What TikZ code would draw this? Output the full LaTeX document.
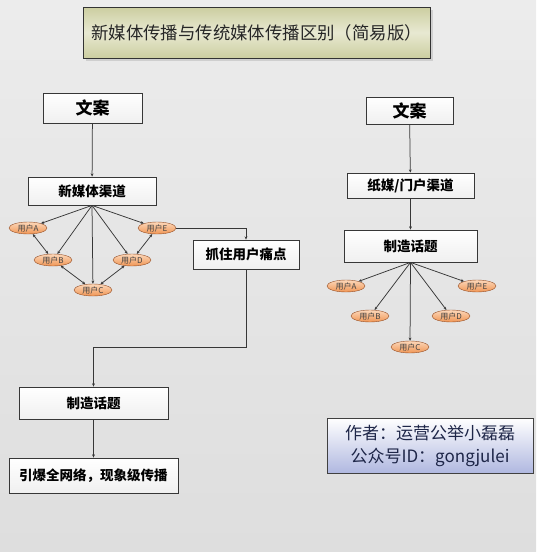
\documentclass[tikz,border=0pt]{standalone}
\usepackage{fontspec}
\setmainfont{Noto Sans CJK SC}
\usetikzlibrary{shapes.geometric,arrows.meta,shadows}
\definecolor{bgtop}{RGB}{236,236,236}
\definecolor{bgbot}{RGB}{222,222,222}
\definecolor{titlefill}{RGB}{204,206,160}
\definecolor{titlemid}{RGB}{232,233,210}
\definecolor{userfill}{RGB}{240,150,85}
\definecolor{userlight}{RGB}{252,215,185}
\definecolor{userborder}{RGB}{150,80,40}
\definecolor{authorfill}{RGB}{176,184,224}
\definecolor{authortext}{RGB}{30,38,72}
\definecolor{lineclr}{RGB}{55,55,55}
\tikzset{
  stepbox/.style  = {draw=lineclr, line width=0.8pt, top color=white,
                     bottom color=gray!12, inner sep=0pt, font=\bfseries,
                     text=black},
  userbub/.style  = {ellipse, draw=userborder, inner sep=0pt,
                     minimum width=38pt, minimum height=12pt,
                     top color=userlight, bottom color=userfill,
                     font=\fontsize{8}{9}\selectfont, text=black!75},
  flow/.style     = {draw=lineclr, line width=0.75pt,
                     -{Stealth[length=3.2pt,width=2.8pt]}},
  twoway/.style   = {draw=lineclr, line width=0.75pt,
                     {Stealth[length=3.2pt,width=2.8pt]}-{Stealth[length=3.2pt,width=2.8pt]}},
}

\begin{document}
\begin{tikzpicture}[x=1pt, y=-1pt]

  % ── canvas ──
  \shade[top color=bgtop, bottom color=bgbot] (0,0) rectangle (536,552);
  \useasboundingbox (0,0) rectangle (536,552);

  % ──────────────────────────────────────────────
  %  TITLE
  % ──────────────────────────────────────────────
  \node[draw=black!80, line width=0.8pt, drop shadow={opacity=0.25},
        top color=titlefill, bottom color=titlefill, middle color=titlemid,
        minimum width=347pt, minimum height=51pt, inner sep=0pt,
        font=\fontsize{17.4}{20}\selectfont, text=black!85]
    (title) at (256.5, 32.5) {新媒体传播与传统媒体传播区别（简易版）};

  % ══════════════════════════════════════════════
  %  LEFT: new media
  % ══════════════════════════════════════════════
  \node[stepbox, minimum width=99pt, minimum height=30pt,
        font=\bfseries\fontsize{17}{18}\selectfont]
    (copyL) at (92.5, 108) {文案};
  \node[stepbox, minimum width=128pt, minimum height=28pt,
        font=\bfseries\fontsize{13.5}{15}\selectfont]
    (newch) at (92, 191) {新媒体渠道};

  % users
  \node[userbub] (lA) at (28,  228) {用户A};
  \node[userbub] (lE) at (157, 228) {用户E};
  \node[userbub] (lB) at (53,  260) {用户B};
  \node[userbub] (lD) at (132, 260) {用户D};
  \node[userbub] (lC) at (93,  290) {用户C};

  \node[stepbox, minimum width=106pt, minimum height=29pt,
        font=\bfseries\fontsize{13.5}{15}\selectfont]
    (pain) at (246, 254.5) {抓住用户痛点};
  \node[stepbox, minimum width=149pt, minimum height=32pt,
        font=\bfseries\fontsize{13.5}{15}\selectfont]
    (topicL) at (93.5, 403) {制造话题};
  \node[stepbox, minimum width=169pt, minimum height=35pt,
        font=\bfseries\fontsize{13.5}{15}\selectfont]
    (viral) at (93.5, 475.5) {引爆全网络，现象级传播};

  % connectors
  \draw[flow] (copyL) -- (newch);
  \foreach \u in {lA,lB,lC,lD,lE}
    \draw[flow] (newch.south) -- (\u);
  \draw[twoway] (lA) -- (lB);
  \draw[twoway] (lB) -- (lC);
  \draw[twoway] (lC) -- (lD);
  \draw[twoway] (lD) -- (lE);
  \draw[flow] (lE.east) -| (pain.north);
  \draw[flow] (pain.south) -- ++(0,78) -| (topicL.north);
  \draw[flow] (topicL) -- (viral);

  % ══════════════════════════════════════════════
  %  RIGHT: traditional media
  % ══════════════════════════════════════════════
  \node[stepbox, minimum width=87pt, minimum height=27pt,
        font=\bfseries\fontsize{17}{18}\selectfont]
    (copyR) at (409.5, 110.5) {文案};
  \node[stepbox, minimum width=127pt, minimum height=25pt,
        font=\bfseries\fontsize{13.5}{15}\selectfont]
    (paper) at (410.5, 185.5) {纸媒/门户渠道};
  \node[stepbox, minimum width=133pt, minimum height=32pt,
        font=\bfseries\fontsize{13.5}{15}\selectfont]
    (topicR) at (410.5, 246) {制造话题};

  % users
  \node[userbub] (rA) at (346, 286) {用户A};
  \node[userbub] (rE) at (477, 286) {用户E};
  \node[userbub] (rB) at (370, 316) {用户B};
  \node[userbub] (rD) at (451, 316) {用户D};
  \node[userbub] (rC) at (410, 347) {用户C};

  % connectors
  \draw[flow] (copyR) -- (paper);
  \draw[flow] (paper) -- (topicR);
  \foreach \u in {rA,rB,rC,rD,rE}
    \draw[flow] (topicR.south) -- (\u);

  % ──────────────────────────────────────────────
  %  AUTHOR
  % ──────────────────────────────────────────────
  \node[draw=black!75, line width=0.7pt, top color=white, bottom color=authorfill,
        minimum width=206pt, minimum height=55pt, inner sep=0pt, align=center,
        font=\fontsize{17}{23}\selectfont, text=authortext]
    (author) at (430, 445.5) {作者：运营公举小磊磊\\公众号ID：gongjulei};

\end{tikzpicture}
\end{document}
